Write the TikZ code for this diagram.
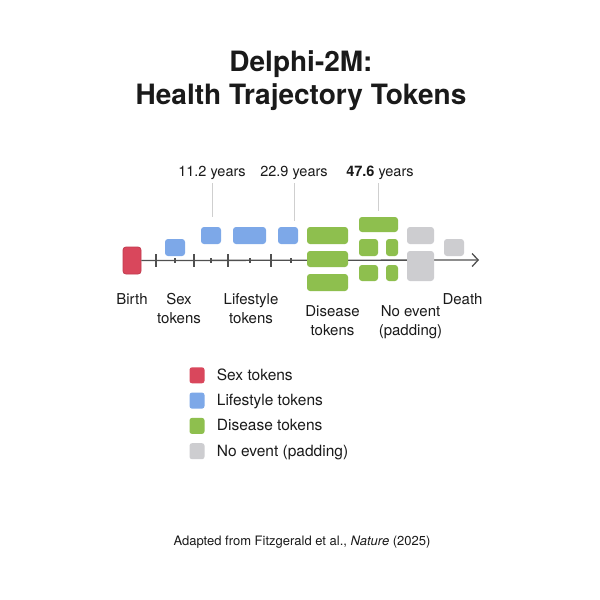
\documentclass[tikz,border=0pt]{standalone}
\usepackage{fontspec}
\setmainfont{TeX Gyre Heros}
\usetikzlibrary{
arrows.meta,
positioning,
}
\definecolor{sexred}{HTML}{D9475C}
\definecolor{sexedge}{HTML}{C23A4E}
\definecolor{lifeblue}{HTML}{7DA8E8}
\definecolor{disgreen}{HTML}{8EBF4E}
\definecolor{padgray}{HTML}{CDCDD0}
\definecolor{axisgray}{HTML}{505050}
\definecolor{guidegray}{HTML}{CFCFCF}
\definecolor{ink}{HTML}{1A1A1A}
\tikzset{
x=1pt, y=-1pt,
every node/.style={align=center, inner sep=0pt, text=ink},
wh/.style 2 args={minimum width=#1pt, minimum height=#2pt},
token/.style={rectangle, rounded corners=3pt},
sextok/.style={token, fill=sexred, draw=sexedge, line width=0.8pt},
lifetok/.style={token, fill=lifeblue},
distok/.style={token, fill=disgreen},
padtok/.style={token, fill=padgray},
axisline/.style={draw=axisgray, line width=1.3pt, -{Straight Barb[length=6pt, width=13pt, line width=1.3pt]}},
tick/.style={draw=axisgray, line width=1.2pt},
guide/.style={draw=guidegray, line width=0.8pt},
title/.style={font=\fontsize{28}{33}\selectfont\bfseries},
years/.style={font=\fontsize{14.5}{17}\selectfont},
tlabel/.style={font=\fontsize{15}{19}\selectfont, anchor=north},
legbox/.style={token, rounded corners=2.5pt, wh={15}{16}},
legtext/.style={font=\fontsize{15.5}{18}\selectfont, anchor=base west},
source/.style={font=\fontsize{13}{15}\selectfont, anchor=base},
}
\begin{document}
\begin{tikzpicture}
\useasboundingbox[fill=white] (0,0) rectangle (600,600);

% title
\node (ttl) [title, anchor=north] at (301,50) {Delphi-2M:\\Health Trajectory Tokens};

% axis
\node (birth) [sextok, wh={18}{27}] at (132,260.5) {};
\coordinate (axend) at (479,260);
\draw [axisline] (birth.east) -- (axend);
\foreach \x in {156,194,228,271}
    \draw [tick] (\x,254) -- (\x,267);
\foreach \x in {175,211,250,291}
    \draw [tick] (\x,258) -- (\x,263);

% tokens
\node (sex1) [lifetok, wh={20}{17}] at (175,247.5) {};
\node (life1) [lifetok, wh={20}{17}] at (211,235.5) {};
\node (life2) [lifetok, wh={33}{17}] at (249.5,235.5) {};
\node (life3) [lifetok, wh={20}{17}] at (288,235.5) {};
\node (dis1) [distok, wh={41}{17}] at (327.5,235.5) {};
\node (dis2) [distok, wh={41}{16}] at (327.5,259) {};
\node (dis3) [distok, wh={41}{17}] at (327.5,282.5) {};
\node (dis4) [distok, wh={39}{15}] at (378.5,224.5) {};
\node (dis5) [distok, wh={19}{17}] at (368.5,247.5) {};
\node (dis6) [distok, wh={12}{17}] at (392,247.5) {};
\node (dis7) [distok, wh={19}{16}] at (368.5,273) {};
\node (dis8) [distok, wh={12}{16}] at (392,273) {};
\node (pad1) [padtok, wh={27}{17}] at (420.5,235.5) {};
\node (pad2) [padtok, wh={27}{30}] at (420.5,266) {};
\node (pad3) [padtok, wh={20}{17}] at (454,247.5) {};

% ages
\node (yrA) [years, anchor=base] at (212,176) {11.2 years};
\node (yrB) [years, anchor=base] at (294,176) {22.9 years};
\node (yrC) [years, anchor=base] at (380,176) {\textbf{47.6} years};
\draw [guide, shorten <=4pt, shorten >=10pt] (yrA.south) -- (yrA.south |- life1.north);
\draw [guide, shorten <=4pt, shorten >=6pt] (yrB.south) -- (yrB.south |- life3.north);
\draw [guide, shorten <=4pt, shorten >=6pt] ([xshift=-2pt]yrC.south) -- ([xshift=-2pt]yrC.south |- dis4.north);

% labels under the axis
\node (lbirth) [tlabel] at (132,293) {Birth};
\node (lsex) [tlabel] at (179,293) {Sex\\tokens};
\node (llife) [tlabel] at (251,293) {Lifestyle\\tokens};
\node (ldis) [tlabel] at (332.5,305) {Disease\\tokens};
\node (lpad) [tlabel] at (410.5,305) {No event\\(padding)};
\node (ldeath) [tlabel] at (462.5,293) {Death};

% legend
\foreach \c/\t [count=\i] in {sexred/Sex tokens, lifeblue/Lifestyle tokens, disgreen/Disease tokens, padgray/No event (padding)} {
    \node (leg\i) [legbox, fill=\c] at (197,350+25.3*\i) {};
    \node (legt\i) [legtext] at ([xshift=12pt, yshift=-5pt]leg\i.east) {\t};
}

\node (src) [source] at (302,545) {Adapted from Fitzgerald et al., \textit{Nature} (2025)};
\end{tikzpicture}
\end{document}
